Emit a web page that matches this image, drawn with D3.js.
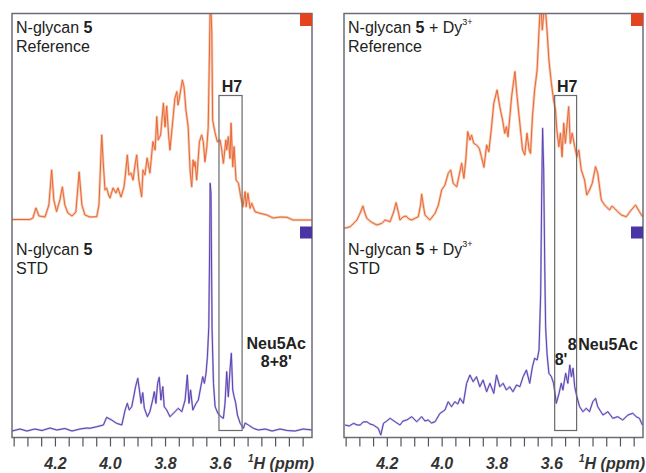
<!DOCTYPE html>
<html>
<head>
<meta charset="utf-8">
<script src="https://cdnjs.cloudflare.com/ajax/libs/d3/7.8.5/d3.min.js"></script>
<style>
body { margin: 0; background: #fff; }
svg text { font-family: Arial, "Liberation Sans", sans-serif; }
</style>
</head>
<body>
<div id="chart"></div>
<script>
// Size of the page
var width = 646;
var height = 473;

// Spectra: [ppm, relative intensity]
var refLeft = [
  [4.356, 0.5], [4.291, 0.5], [4.280, 2], [4.269, 12], [4.258, 4], [4.236, 3], [4.222, 15],
  [4.212, 50], [4.204, 20], [4.194, 8.5], [4.182, 20], [4.173, 33], [4.164, 15], [4.153, 7],
  [4.138, 4], [4.124, 8], [4.112, 48], [4.102, 15], [4.091, 5], [4.073, 3], [4.048, 3.3],
  [4.040, 15], [4.030, 85], [4.024, 55], [4.018, 30], [4.012, 32], [4.005, 25], [4.000, 22],
  [3.989, 32], [3.978, 27], [3.971, 32], [3.960, 23], [3.949, 33], [3.944, 45], [3.937, 65],
  [3.931, 45], [3.924, 47], [3.916, 40], [3.909, 55], [3.903, 65], [3.895, 40], [3.885, 23.3],
  [3.880, 50], [3.873, 45], [3.865, 62], [3.855, 47], [3.844, 78.3], [3.836, 70], [3.830, 103.3],
  [3.825, 80], [3.816, 85], [3.806, 116.7], [3.800, 93], [3.794, 114], [3.787, 85], [3.782, 70],
  [3.775, 90], [3.764, 122], [3.757, 128.3], [3.753, 115], [3.749, 120], [3.737, 140],
  [3.731, 133.3], [3.724, 110], [3.716, 93.3], [3.709, 50], [3.703, 33.3], [3.698, 60],
  [3.695, 53.3], [3.691, 58.3], [3.685, 40], [3.675, 78.3], [3.667, 85], [3.661, 78.3],
  [3.655, 58.3], [3.648, 73.3], [3.643, 93.3], [3.639, 160], [3.636, 215], [3.633, 210],
  [3.630, 187], [3.627, 100], [3.618, 87], [3.610, 78.3], [3.600, 80], [3.594, 70], [3.588, 56.7],
  [3.579, 80], [3.576, 70], [3.570, 83.3], [3.564, 61.7], [3.560, 96.7], [3.554, 53.3],
  [3.549, 73.3], [3.542, 40], [3.533, 36.7], [3.525, 23.3], [3.517, 13.3], [3.509, 28.3],
  [3.505, 13.3], [3.499, 26.7], [3.491, 11.7], [3.485, 16.7], [3.473, 8.3], [3.455, 6.7],
  [3.430, 5], [3.407, 2], [3.382, 3], [3.357, 2.7], [3.335, 0], [3.265, 0]
];

var stdLeft = [
  [4.356, -1], [4.327, 1], [4.302, -1], [4.273, 1], [4.247, -0.5], [4.218, 2], [4.193, 0],
  [4.164, 1.5], [4.138, -1], [4.109, 1], [4.084, 2], [4.073, 1.7], [4.048, 3.3], [4.024, 5],
  [4.012, 12.7], [3.994, 10], [3.976, 6.7], [3.957, 5], [3.945, 20], [3.937, 26.7], [3.930, 20],
  [3.921, 23.3], [3.915, 31.7], [3.907, 43.3], [3.899, 51.7], [3.893, 40], [3.887, 26.7],
  [3.881, 37.3], [3.875, 21.7], [3.864, 13.3], [3.855, 18.3], [3.845, 30], [3.839, 38.3],
  [3.833, 26.7], [3.827, 46.7], [3.821, 52.7], [3.815, 30], [3.808, 43.3], [3.803, 23.3],
  [3.794, 20], [3.782, 13.3], [3.764, 18.3], [3.752, 21.7], [3.739, 18.3], [3.727, 30],
  [3.719, 55], [3.713, 26.7], [3.707, 40], [3.699, 20], [3.687, 26.7], [3.679, 30], [3.670, 43.3],
  [3.663, 53.3], [3.657, 46.7], [3.651, 56.7], [3.646, 73.3], [3.641, 103.3], [3.638, 180],
  [3.636, 246.7], [3.633, 236.7], [3.629, 100], [3.624, 46.7], [3.618, 23.3], [3.608, 16.7],
  [3.597, 13.3], [3.588, 11.7], [3.582, 26.7], [3.576, 58.3], [3.570, 33.3], [3.564, 60],
  [3.559, 76.7], [3.554, 40], [3.549, 33.3], [3.543, 26.7], [3.537, 15], [3.527, 6.7],
  [3.515, 1.7], [3.509, 7], [3.497, 5], [3.479, 1.7], [3.461, 0], [3.436, 1], [3.411, -1],
  [3.382, 1], [3.356, -0.5], [3.327, -1], [3.298, 1], [3.265, 0]
];

var refRight = [
  [4.355, 1.7], [4.333, 3.3], [4.309, 10], [4.297, 17], [4.287, 24], [4.281, 18], [4.273, 11.7],
  [4.257, 8], [4.236, 5], [4.218, 6.7], [4.206, 10], [4.188, 8.3], [4.175, 18], [4.166, 27.3],
  [4.158, 18], [4.152, 10], [4.141, 13], [4.130, 14], [4.119, 11], [4.109, 10], [4.085, 13.3],
  [4.077, 25], [4.073, 35.7], [4.067, 25], [4.061, 15], [4.043, 10], [4.024, 16.7], [4.012, 25],
  [4.000, 40], [3.988, 45], [3.976, 56.7], [3.967, 60], [3.958, 46.7], [3.945, 43.3], [3.936, 55],
  [3.927, 66.7], [3.919, 51.7], [3.912, 70], [3.905, 98.3], [3.897, 90], [3.891, 95],
  [3.883, 86.7], [3.873, 85], [3.863, 81.7], [3.855, 73.3], [3.846, 62.7], [3.836, 85],
  [3.828, 78.3], [3.818, 103.3], [3.810, 126.7], [3.798, 140], [3.788, 123.3], [3.778, 110],
  [3.770, 96.7], [3.764, 103.3], [3.758, 93.3], [3.745, 133.3], [3.733, 158.3], [3.725, 133.3],
  [3.715, 106.7], [3.705, 80], [3.697, 75], [3.689, 96.7], [3.681, 80], [3.676, 76.7],
  [3.669, 113.3], [3.661, 140], [3.652, 160], [3.645, 200], [3.639, 230], [3.633, 200],
  [3.624, 230], [3.616, 200], [3.609, 170], [3.600, 146.7], [3.592, 130], [3.585, 120],
  [3.580, 100], [3.573, 83.3], [3.567, 96.7], [3.561, 73.3], [3.555, 106.7], [3.549, 86.7],
  [3.543, 105], [3.537, 123.3], [3.531, 86.7], [3.524, 96.7], [3.515, 83.3], [3.507, 73.3],
  [3.500, 80], [3.491, 60], [3.479, 50], [3.471, 35], [3.461, 40], [3.451, 46.7], [3.439, 63.3],
  [3.431, 56.7], [3.418, 30], [3.406, 25], [3.388, 20], [3.379, 24], [3.370, 21.7],
  [3.358, 18.3], [3.345, 15], [3.327, 13.3], [3.309, 20], [3.293, 25], [3.279, 18.3],
  [3.268, 13.3]
];

var stdRight = [
  [4.352, 5], [4.337, 4], [4.321, 6.7], [4.308, 5], [4.297, 5], [4.286, 8], [4.273, 8.3],
  [4.261, 6], [4.249, 5], [4.231, 1.7], [4.222, -5], [4.212, 6.7], [4.200, 9], [4.188, 11.7],
  [4.170, 8.3], [4.152, 5], [4.141, 9], [4.127, 10], [4.109, 13.3], [4.091, 8.3], [4.073, 13.3],
  [4.061, 9], [4.049, 10], [4.037, 7], [4.024, 8.3], [4.006, 16.7], [3.988, 20], [3.976, 28.3],
  [3.964, 23.3], [3.952, 28.3], [3.941, 26], [3.933, 31.7], [3.921, 26.7], [3.909, 46.7],
  [3.897, 55], [3.885, 48.3], [3.873, 53.3], [3.861, 43.3], [3.849, 50], [3.836, 38.3],
  [3.824, 46.7], [3.810, 36.7], [3.800, 55], [3.788, 43.3], [3.776, 46.7], [3.764, 40],
  [3.752, 43.3], [3.740, 38.3], [3.727, 45], [3.715, 43.3], [3.703, 53.3], [3.691, 60],
  [3.679, 46.7], [3.669, 63.3], [3.661, 71.7], [3.652, 70], [3.645, 80], [3.639, 136.7],
  [3.635, 243.3], [3.632, 301.7], [3.628, 260], [3.624, 160], [3.621, 103.3], [3.616, 76.7],
  [3.609, 56.7], [3.600, 53.3], [3.592, 46.7], [3.582, 26.7], [3.572, 36.7], [3.564, 46.7],
  [3.558, 40], [3.548, 56.7], [3.540, 46.7], [3.533, 65], [3.527, 53.3], [3.521, 61.7],
  [3.515, 43.3], [3.507, 33.3], [3.497, 23.3], [3.485, 18.3], [3.473, 21.7], [3.461, 18.3],
  [3.449, 28.3], [3.439, 31.7], [3.431, 23.3], [3.412, 15], [3.394, 18.3], [3.376, 11.7],
  [3.358, 13.3], [3.340, 10], [3.321, 15], [3.303, 16.7], [3.291, 13.3], [3.279, 11.7],
  [3.268, 5]
];

// ppm range of the H7 box in each panel
var boxLeft = [3.604, 3.520];
var boxRight = [3.588, 3.508];

// axis
var ppmDomain = [4.356, 3.266];
var minorTicks = d3.range(0, 22).map(function(i) { return +(4.35 - i * 0.05).toFixed(2); });
var majorTicks = [4.2, 4.0, 3.8, 3.6];
var tickLabels = ["4.2", "4.0", "3.8", "3.6"];

var orange = '#e8683a';
var orangeSoft = '#f6c8ad';
var purple = '#5a42b0';
var purpleSoft = '#c3b8e6';

// Panel layout (pixels)
var panels = [
  { id: 'L', left: 12, right: 312, ref: refLeft, std: stdLeft, box: boxLeft, refBase: 220, dy: false },
  { id: 'R', left: 344, right: 643, ref: refRight, std: stdRight, box: boxRight, refBase: 230, dy: true }
];
var panelTop = 13.5, panelBottom = 437.5, stdBase = 430;

var svg = d3.select("#chart")
  .append("svg")
  .attr("width", width)
  .attr("height", height);

panels.forEach(function(p) {
  var x = d3.scaleLinear().domain(ppmDomain).range([p.left, p.right]);
  var yRef = d3.scaleLinear().domain([0, 200]).range([p.refBase, p.refBase - 200]);
  var yStd = d3.scaleLinear().domain([0, 200]).range([stdBase, stdBase - 200]);

  var g = svg.append("g");

  svg.append("clipPath").attr("id", "clip" + p.id)
    .append("rect")
    .attr("x", p.left).attr("y", panelTop)
    .attr("width", p.right - p.left).attr("height", panelBottom - panelTop);

  var traces = g.append("g").attr("clip-path", "url(#clip" + p.id + ")");

  var lineRef = d3.line().x(function(d) { return x(d[0]); }).y(function(d) { return yRef(d[1]); });
  var lineStd = d3.line().x(function(d) { return x(d[0]); }).y(function(d) { return yStd(d[1]); });

  // soft under-stroke, then the thin line on top
  traces.append("path").attr("d", lineRef(p.ref))
    .attr("fill", "none").attr("stroke", orangeSoft).attr("stroke-width", 2.6).attr("stroke-linejoin", "round");
  traces.append("path").attr("d", lineRef(p.ref))
    .attr("fill", "none").attr("stroke", orange).attr("stroke-width", 1);
  traces.append("path").attr("d", lineStd(p.std))
    .attr("fill", "none").attr("stroke", purpleSoft).attr("stroke-width", 2).attr("stroke-linejoin", "round");
  traces.append("path").attr("d", lineStd(p.std))
    .attr("fill", "none").attr("stroke", purple).attr("stroke-width", 1);

  // H7 box
  g.append("rect")
    .attr("x", x(p.box[0])).attr("y", 95.5)
    .attr("width", x(p.box[1]) - x(p.box[0])).attr("height", 335)
    .attr("fill", "none").attr("stroke", "#6a6a6a").attr("stroke-width", 1.2);

  g.append("text")
    .attr("x", (x(p.box[0]) + x(p.box[1])) / 2 + 1.5).attr("y", 92)
    .attr("text-anchor", "middle").attr("font-size", 16).attr("font-weight", "bold")
    .attr("fill", "#222").text("H7");

  // panel frame
  g.append("rect")
    .attr("x", p.left).attr("y", panelTop)
    .attr("width", p.right - p.left).attr("height", panelBottom - panelTop)
    .attr("fill", "none").attr("stroke", "#6c6c78").attr("stroke-width", 1.5);

  // corner squares
  g.append("rect").attr("x", p.right - 12).attr("y", panelTop).attr("width", 12).attr("height", 12.5).attr("fill", "#e4431f");
  g.append("rect").attr("x", p.right - 12).attr("y", 226.5).attr("width", 12).attr("height", 12).attr("fill", "#4a34a6");

  // axis
  var axis = d3.axisBottom(x)
    .tickValues(minorTicks)
    .tickSize(9)
    .tickSizeOuter(0)
    .tickFormat(function(d) {
      var i = majorTicks.indexOf(d);
      return i < 0 ? "" : tickLabels[i];
    });

  var ax = g.append("g").attr("transform", "translate(0," + panelBottom + ")").call(axis);
  ax.select(".domain").remove();
  ax.selectAll(".tick line").attr("stroke", "#555").attr("stroke-width", 1.2);
  ax.selectAll(".tick text")
    .attr("y", 15).attr("dy", "1em")
    .attr("font-size", 16).attr("font-weight", "bold").attr("font-style", "italic")
    .attr("font-family", "Arial, 'Liberation Sans', sans-serif")
    .attr("fill", "#333");

  var axLabel = g.append("text")
    .attr("x", p.right + 2).attr("y", 469)
    .attr("text-anchor", "end").attr("font-size", 16).attr("font-weight", "bold")
    .attr("font-style", "italic").attr("fill", "#333");
  axLabel.append("tspan").attr("font-size", 10).attr("dy", -7).text("1");
  axLabel.append("tspan").attr("dy", 7).text("H (ppm)");

  // sample labels
  var tx = p.left + 4;
  [[33, "Reference"], [255, "STD"]].forEach(function(lab) {
    var t = g.append("text").attr("x", tx).attr("y", lab[0])
      .attr("font-size", 16).attr("fill", "#222");
    t.append("tspan").text("N-glycan ");
    t.append("tspan").attr("font-weight", "bold").text("5");
    if (p.dy) {
      t.append("tspan").text(" + Dy");
      t.append("tspan").attr("font-size", 9).attr("dy", -8).text("3+");
    }
    g.append("text").attr("x", tx).attr("y", lab[0] + 18.5)
      .attr("font-size", 16).attr("fill", "#222").text(lab[1]);
  });
});

// Neu5Ac annotations
var xL = d3.scaleLinear().domain(ppmDomain).range([12, 312]);
var xR = d3.scaleLinear().domain(ppmDomain).range([344, 643]);

svg.append("text").attr("x", xL(3.396)).attr("y", 349)
  .attr("text-anchor", "middle").attr("font-size", 16).attr("font-weight", "bold")
  .attr("fill", "#222").text("Neu5Ac");
svg.append("text").attr("x", xL(3.396)).attr("y", 367)
  .attr("text-anchor", "middle").attr("font-size", 16).attr("font-weight", "bold")
  .attr("fill", "#222").text("8+8'");

svg.append("text").attr("x", xR(3.540)).attr("y", 350)
  .attr("font-size", 16).attr("font-weight", "bold").attr("fill", "#222").text("8");
svg.append("text").attr("x", xR(3.502)).attr("y", 350)
  .attr("font-size", 16).attr("font-weight", "bold").attr("fill", "#222").text("Neu5Ac");
svg.append("text").attr("x", xR(3.588)).attr("y", 365)
  .attr("font-size", 16).attr("font-weight", "bold").attr("fill", "#222").text("8'");
</script>
</body>
</html>
